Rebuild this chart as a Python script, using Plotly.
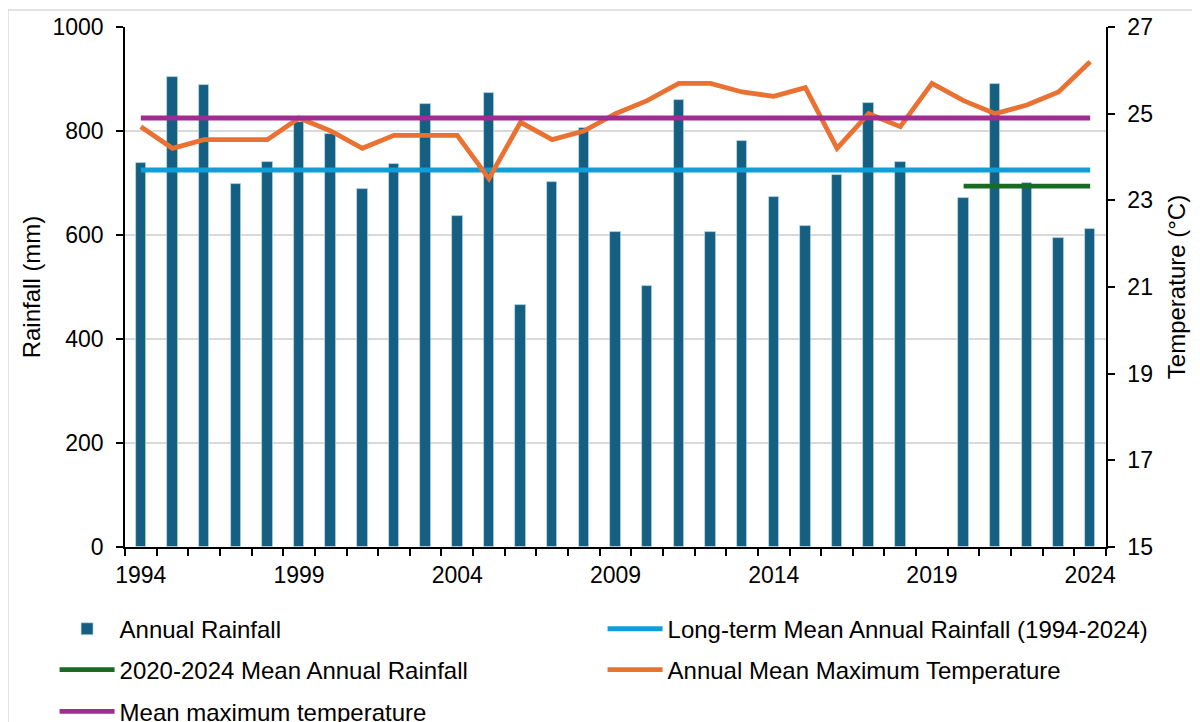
import plotly.graph_objects as go

years = list(range(1994, 2025))
annual_rainfall = [738, 904, 888, 698, 741, 818, 795, 688, 736, 852, 636, 874, 465, 701, 806,
                   605, 502, 860, 606, 781, 673, 617, 715, 853, 740, None, 672, 891, 700, 595, 612]
annual_max_temp = [24.7, 24.2, 24.4, 24.4, 24.4, 24.9, 24.6, 24.2, 24.5, 24.5, 24.5, 23.5, 24.8,
                   24.4, 24.6, 25.0, 25.3, 25.7, 25.7, 25.5, 25.4, 25.6, 24.2, 25.0, 24.7, 25.7,
                   25.3, 25.0, 25.2, 25.5, 26.2]
lt_mean_rain = 725
lt_years = [1994, 2024]
recent_mean_rain = 694
recent_years = [2020, 2024]
mean_max_temp = 24.9
tick_years = [1994, 1999, 2004, 2009, 2014, 2019, 2024]

FONT = "Liberation Sans, Arial, sans-serif"
C_BAR = "#156082"
C_BLUE = "#0F9ED5"
C_GREEN = "#196B24"
C_ORANGE = "#E97132"
C_PURPLE = "#A02B93"
LW = 4.8

fig = go.Figure()
fig.add_trace(go.Bar(x=years, y=annual_rainfall, name="Annual Rainfall", width=0.33,
                     marker=dict(color=C_BAR, line=dict(color="rgba(200,225,235,0.8)", width=0.8)),
                     legend="legend"))
fig.add_trace(go.Scatter(x=lt_years, y=[lt_mean_rain] * 2, mode="lines",
                         name="Long-term Mean Annual Rainfall (1994-2024)",
                         line=dict(color=C_BLUE, width=LW), legend="legend2"))
fig.add_trace(go.Scatter(x=recent_years, y=[recent_mean_rain] * 2, mode="lines",
                         name="2020-2024 Mean Annual Rainfall",
                         line=dict(color=C_GREEN, width=LW), legend="legend3"))
fig.add_trace(go.Scatter(x=years, y=annual_max_temp, mode="lines", yaxis="y2",
                         name="Annual Mean Maximum Temperature",
                         line=dict(color=C_ORANGE, width=LW), legend="legend4"))
fig.add_trace(go.Scatter(x=lt_years, y=[mean_max_temp] * 2, mode="lines", yaxis="y2",
                         name="Mean maximum temperature",
                         line=dict(color=C_PURPLE, width=LW), legend="legend5"))

leg_common = dict(orientation="v", xanchor="left", yanchor="middle", itemwidth=55,
                  font=dict(family=FONT, size=24, color="black"), bgcolor="rgba(0,0,0,0)")
COL1, COL2 = -0.0718, 0.4868
ROW1, ROW2, ROW3 = -0.158, -0.2365, -0.317

fig.update_layout(
    width=1200, height=722,
    margin=dict(l=117, r=102, t=19, b=183, autoexpand=False),
    paper_bgcolor="white", plot_bgcolor="white",
    font=dict(family=FONT, size=23, color="black"),
    bargap=0,
    xaxis=dict(range=[1993.5, 2024.5], tickvals=tick_years, ticktext=[str(t) for t in tick_years],
               ticks="outside", ticklen=7, tickcolor="rgba(0,0,0,0)",
               showline=True, linecolor="black", linewidth=1.5, showgrid=False, zeroline=False,
               minor=dict(tick0=1993.5, dtick=1, ticks="outside", ticklen=7, tickcolor="black",
                          tickwidth=1.5, showgrid=False),
               tickfont=dict(size=23)),
    yaxis=dict(range=[0, 1000], dtick=200, ticks="outside", ticklen=7, tickwidth=1.5,
               tickcolor="black", showline=True, linecolor="black", linewidth=1.5,
               showgrid=True, gridcolor="#D9D9D9", gridwidth=1.5, zeroline=False,
               ticklabelstandoff=8,
               title=dict(text="Rainfall (mm)", font=dict(size=24), standoff=5),
               tickfont=dict(size=23)),
    yaxis2=dict(range=[15, 27], tick0=15, dtick=2, overlaying="y", side="right", ticks="outside",
                ticklen=7, tickwidth=1.5, tickcolor="black", showline=True, linecolor="black",
                linewidth=1.5, showgrid=False, zeroline=False, ticklabelstandoff=8,
                title=dict(text="Temperature (°C)", font=dict(size=24), standoff=16),
                tickfont=dict(size=23)),
    legend=dict(leg_common, x=COL1, y=ROW1),
    legend2=dict(leg_common, x=COL2, y=ROW1),
    legend3=dict(leg_common, x=COL1, y=ROW2),
    legend4=dict(leg_common, x=COL2, y=ROW2),
    legend5=dict(leg_common, x=COL1, y=ROW3),
    shapes=[dict(type="rect", xref="paper", yref="paper", x0=-0.1193, x1=1.3, y0=-0.6, y1=1.0327,
                 line=dict(color="#D9D9D9", width=1.5), fillcolor="rgba(0,0,0,0)", layer="below")],
    showlegend=True,
)

fig.write_html("out.html")
